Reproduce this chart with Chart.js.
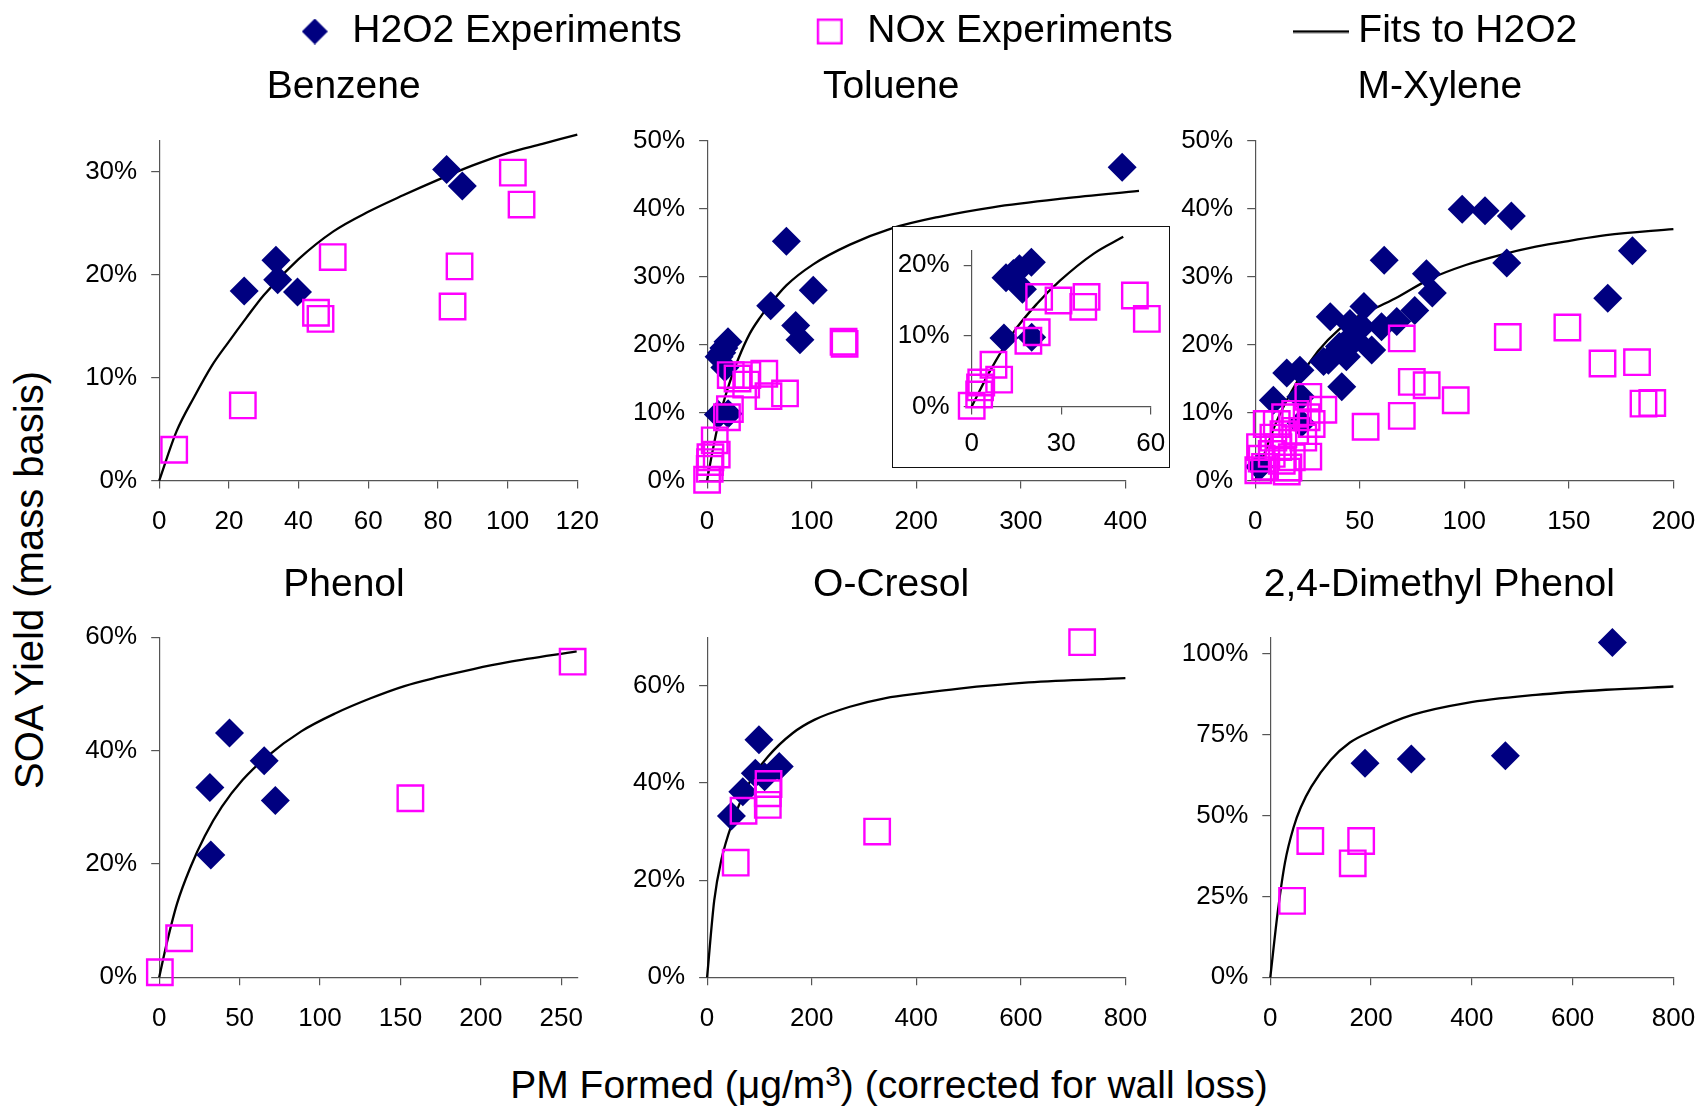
<!DOCTYPE html>
<html>
<head>
<meta charset="utf-8">
<script src="https://cdn.jsdelivr.net/npm/chart.js@4.4.1/dist/chart.umd.min.js"></script>
<style>
html,body{margin:0;padding:0;background:#fff;}
body{width:1700px;height:1109px;position:relative;overflow:hidden;font-family:'Liberation Sans',Arial,sans-serif;color:#000;}
canvas{position:absolute;}
#insetBox{position:absolute;left:891.7px;top:226px;width:278.3px;height:242.3px;border:1.5px solid #111;background:#fff;box-sizing:border-box;z-index:2;}
#ytitle{position:absolute;left:-221px;top:559.5px;width:500px;height:40px;line-height:40px;font-size:40px;text-align:center;transform:rotate(-90deg);transform-origin:50% 50%;white-space:nowrap;}
#xtitle{position:absolute;left:389px;top:1065px;width:1000px;height:39px;line-height:39px;font-size:39px;text-align:center;white-space:nowrap;}
#xtitle .sup{font-size:28px;position:relative;top:-12px;}
.ptitle{position:absolute;width:600px;height:39px;line-height:39px;font-size:39px;text-align:center;white-space:nowrap;z-index:5;}
</style>
</head>
<body>
<div id="ytitle">SOA Yield (mass basis)</div>
<div id="xtitle">PM Formed (μg/m<span class="sup">3</span>) (corrected for wall loss)</div>
<div id="insetBox"></div>
<script>
// ---------------- DATA ----------------
const legendLabels = ['H2O2 Experiments', 'NOx Experiments', 'Fits to H2O2'];
const panelTitles = ['Benzene', 'Toluene', 'M-Xylene', 'Phenol', 'O-Cresol', '2,4-Dimethyl Phenol'];

// Benzene
const benzeneH2O2X = [24.4, 33.5, 34.0, 39.7, 82.5, 87.0];
const benzeneH2O2Y = [18.4, 21.4, 19.5, 18.3, 30.2, 28.6];
const benzeneNOxX = [4.3, 24.0, 45.0, 46.3, 49.8, 84.2, 86.2, 101.5, 104.0];
const benzeneNOxY = [3.0, 7.3, 16.3, 15.7, 21.7, 16.9, 20.8, 29.9, 26.8];
const benzeneFitX = [0, 5, 10, 15, 20, 25, 30, 40, 50, 60, 70, 80, 90, 100, 110, 120];
const benzeneFitY = [0, 4.8, 8.1, 11.1, 13.5, 15.8, 18.0, 21.5, 24.2, 26.1, 27.7, 29.2, 30.6, 31.8, 32.7, 33.6];

// Toluene
const tolueneH2O2X = [10.8, 20.1, 11.5, 14, 16, 20, 17, 60.8, 75.8, 84.7, 88.8, 101.5, 396.9];
const tolueneH2O2Y = [9.7, 9.8, 18.2, 18.8, 19.5, 20.4, 16.6, 25.7, 35.2, 22.8, 20.7, 28.0, 46.1];
const tolueneNOxX = [0, 2.5, 2.8, 3.2, 7.3, 9.2, 19, 21.8, 22.6, 29.1, 37.4, 38.5, 54.7, 58.7, 74.5, 130.5, 131.5];
const tolueneNOxY = [0.1, 1.7, 2.7, 3.4, 5.9, 3.8, 9.3, 10.5, 15.5, 15.0, 14.1, 15.5, 15.7, 12.4, 12.8, 20.4, 20.1];
const tolueneFitX = [0, 6.1, 14, 21.8, 29.6, 40.8, 50.8, 58, 75.8, 101.5, 136.6, 176.6, 222, 273, 341.6, 413];
const tolueneFitY = [0, 5.0, 10.5, 14.5, 17.8, 21.6, 24.0, 25.5, 28.7, 31.8, 34.7, 37.1, 38.8, 40.2, 41.5, 42.6];

// M-Xylene
const mxyleneH2O2X = [2, 8.7, 15.1, 21.4, 21.8, 22, 32.7, 35.0, 35.9, 40.3, 41.4, 43.6, 45.3, 46.1, 47.7, 50.9, 52.0, 55.7, 60.4, 61.7, 67.7, 76.3, 81.9, 84.7, 99.0, 109.9, 120.3, 122.5, 168.6, 180.4];
const mxyleneH2O2Y = [2, 11.8, 15.8, 16.2, 12.3, 8.4, 17.5, 17.7, 24.1, 19.7, 13.8, 18.2, 23.1, 21.1, 20.7, 22.6, 25.6, 19.2, 22.6, 32.4, 23.4, 25.0, 30.4, 27.6, 39.9, 39.7, 32.0, 38.9, 26.8, 33.8];
const mxyleneNOxX = [1.5, 2.3, 3.1, 4.7, 5.5, 7.9, 8.7, 10.3, 11.1, 12.7, 13.5, 14.3, 15.1, 15.9, 17.5, 19.1, 19.1, 23.0, 24.6, 25.4, 25.4, 27.0, 32.6, 52.8, 70.1, 70.1, 74.9, 82.0, 95.9, 120.8, 149.3, 166.1, 182.6, 185.7, 189.9];
const mxyleneNOxY = [1.5, 4.9, 3.2, 2.0, 8.3, 3.9, 6.3, 8.3, 4.9, 2.9, 6.8, 9.3, 1.3, 1.9, 3.4, 9.8, 7.3, 6.3, 9.3, 12.3, 3.5, 8.3, 10.4, 7.9, 20.9, 9.5, 14.5, 14.0, 11.8, 21.1, 22.5, 17.2, 17.4, 11.3, 11.4];
const mxyleneFitX = [0, 10, 20, 30, 40, 50, 57, 67.1, 83.9, 100.7, 117.5, 134.2, 151, 167.8, 200];
const mxyleneFitY = [0, 8.5, 14.5, 19.0, 22.2, 24.3, 25.3, 26.8, 29.7, 31.7, 33.2, 34.4, 35.3, 36.1, 37.0];

// Phenol
const phenolH2O2X = [31.5, 32.1, 43.7, 65.3, 72.2];
const phenolH2O2Y = [33.5, 21.6, 43.1, 38.2, 31.2];
const phenolNOxX = [0.4, 12.4, 156.2, 257.1];
const phenolNOxY = [0.9, 6.9, 31.6, 55.7];
const phenolFitX = [0, 4.7, 11.1, 19.7, 28.3, 39, 51.8, 66.8, 88.3, 109.7, 131.1, 152.5, 173.9, 195.4, 216.8, 259.6];
const phenolFitY = [0, 6.0, 13.0, 19.6, 24.9, 30.1, 34.8, 38.9, 43.4, 46.6, 49.2, 51.4, 53.0, 54.4, 55.6, 57.5];

// O-Cresol
const ocresolH2O2X = [46.5, 68.3, 92.2, 99.1, 110, 138.0];
const ocresolH2O2Y = [33.2, 38.2, 42.0, 48.9, 41.3, 43.4];
const ocresolNOxX = [54.7, 69.7, 116.1, 116.1, 117.5, 325.2, 717.3];
const ocresolNOxY = [23.6, 34.3, 35.5, 37.9, 39.8, 30.0, 69.0];
const ocresolFitX = [0, 13.7, 27.3, 47.8, 82, 116.1, 164, 205, 273, 341.6, 409.9, 478.2, 614.9, 800];
const ocresolFitY = [0, 15.9, 24.2, 31.7, 40.3, 45.4, 50.3, 53.0, 55.7, 57.5, 58.5, 59.4, 60.7, 61.6];

// 2,4-Dimethyl Phenol
const dmphenolH2O2X = [188.0, 279.9, 466.5, 678.9];
const dmphenolH2O2Y = [66.1, 67.4, 68.4, 103.4];
const dmphenolNOxX = [43.2, 79.4, 163.6, 180.3];
const dmphenolNOxY = [23.6, 42.1, 35.2, 42.1];
const dmphenolFitX = [0, 15.3, 29.2, 46.6, 60.6, 81.5, 119.8, 158, 199.8, 283.4, 387.8, 527.1, 666.3, 800];
const dmphenolFitY = [0, 20.8, 35.5, 46.5, 52.5, 58.9, 67.1, 72.5, 75.9, 81.1, 84.7, 87.2, 88.8, 89.8];

// Axis ranges (min, max, step) for x and y of each panel
const xRanges = [[0, 120, 20], [0, 400, 100], [0, 200, 50], [0, 260, 50], [0, 800, 200], [0, 800, 200]];
const yRanges = [[0, 33, 10], [0, 50, 10], [0, 50, 10], [0, 60, 20], [0, 70, 20], [0, 105, 25]];
const insetXRange = [0, 60, 30];
const insetYRange = [0, 22, 10];

// ---------------- STYLE / LAYOUT ----------------
const FONT = "'Liberation Sans', Arial, sans-serif";
const NAVY = '#000080';
const MAGENTA = '#FF00FF';
const AXIS = '#555555';
const TICK_FONT = {size: 26, family: FONT};

const pts = (xs, ys) => xs.map((x, i) => ({x: x, y: ys[i]}));

function makeDatasets(h2x, h2y, nx, ny, fx, fy) {
  return [
    {label: legendLabels[1], data: pts(nx, ny), order: 1, clip: false,
     pointStyle: 'rect', pointRadius: 18, pointHoverRadius: 18,
     backgroundColor: 'rgba(0,0,0,0)', pointBackgroundColor: 'rgba(0,0,0,0)',
     borderColor: MAGENTA, pointBorderColor: MAGENTA, borderWidth: 2.4, pointBorderWidth: 2.4, showLine: false},
    {label: legendLabels[0], data: pts(h2x, h2y), order: 2, clip: false,
     pointStyle: 'rectRot', pointRadius: 14.5, pointHoverRadius: 14.5,
     backgroundColor: NAVY, pointBackgroundColor: NAVY, borderWidth: 0, pointBorderWidth: 0, showLine: false},
    {label: legendLabels[2], data: pts(fx, fy), order: 3, clip: false,
     showLine: true, pointRadius: 0, pointHoverRadius: 0, borderColor: '#000', borderWidth: 2.3,
     backgroundColor: '#000', fill: false, cubicInterpolationMode: 'monotone'}
  ];
}

function scaleCfg(range, isY, fitSize, xPad) {
  return {
    type: 'linear', min: range[0], max: range[1],
    ticks: {stepSize: range[2], includeBounds: false, autoSkip: false, maxRotation: 0,
            color: '#000', font: TICK_FONT, padding: isY ? 14 : (xPad || 17.5),
            callback: isY ? (v => v + '%') : (v => String(v))},
    grid: {drawOnChartArea: false, drawTicks: true, tickLength: 8, color: AXIS, lineWidth: 1.2},
    border: {display: true, color: AXIS, width: 1.2},
    afterFit: isY ? (s => { s.width = fitSize; }) : (s => { s.height = fitSize; })
  };
}

// chart-area targets for the six panels, plus title centre x and title baseline y
const panelBoxes = [
  {left: 159.2, right: 577.3, top: 140.7, bottom: 480.6, tcx: 343.7, base: 98.0},
  {left: 707.1, right: 1125.4, top: 140.7, bottom: 480.4, tcx: 891.2, base: 98.0},
  {left: 1255.2, right: 1673.4, top: 140.7, bottom: 480.4, tcx: 1439.8, base: 98.0},
  {left: 159.2, right: 577.3, top: 637.3, bottom: 977.3, tcx: 344.0, base: 595.5},
  {left: 707.1, right: 1125.4, top: 637.3, bottom: 977.3, tcx: 891.1, base: 595.5},
  {left: 1270.3, right: 1673.4, top: 637.3, bottom: 977.3, tcx: 1439.4, base: 595.5}
];

const panelData = [
  [benzeneH2O2X, benzeneH2O2Y, benzeneNOxX, benzeneNOxY, benzeneFitX, benzeneFitY],
  [tolueneH2O2X, tolueneH2O2Y, tolueneNOxX, tolueneNOxY, tolueneFitX, tolueneFitY],
  [mxyleneH2O2X, mxyleneH2O2Y, mxyleneNOxX, mxyleneNOxY, mxyleneFitX, mxyleneFitY],
  [phenolH2O2X, phenolH2O2Y, phenolNOxX, phenolNOxY, phenolFitX, phenolFitY],
  [ocresolH2O2X, ocresolH2O2Y, ocresolNOxX, ocresolNOxY, ocresolFitX, ocresolFitY],
  [dmphenolH2O2X, dmphenolH2O2Y, dmphenolNOxX, dmphenolNOxY, dmphenolFitX, dmphenolFitY]
];

function addCanvas(l, t, w, h, z) {
  const c = document.createElement('canvas');
  c.width = w; c.height = h;
  c.style.left = l + 'px'; c.style.top = t + 'px';
  c.style.width = w + 'px'; c.style.height = h + 'px';
  c.style.zIndex = z;
  document.body.appendChild(c);
  return c;
}

function makePanel(i) {
  const b = panelBoxes[i];
  // panel title as text
  const t = document.createElement('div');
  t.className = 'ptitle';
  t.textContent = panelTitles[i];
  t.style.left = (b.tcx - 300) + 'px';
  t.style.top = (b.base - 33) + 'px';
  document.body.appendChild(t);

  const Cl = Math.round(b.left - 100);
  const Wy = b.left - Cl;
  const Wc = Math.ceil(b.right - Cl + 45);
  const padR = Wc - (b.right - Cl);
  const Ct = Math.round(b.top - 42);
  const padT = b.top - Ct;
  const Hc = Math.round(b.bottom - Ct + 62);
  const Hx = Ct + Hc - b.bottom;
  const cv = addCanvas(Cl, Ct, Wc, Hc, 1);
  const d = panelData[i];
  new Chart(cv, {
    type: 'scatter',
    data: {datasets: makeDatasets(d[0], d[1], d[2], d[3], d[4], d[5])},
    options: {
      responsive: false, animation: false, devicePixelRatio: 1, events: [],
      layout: {padding: {left: 0, right: padR, top: padT, bottom: 0}},
      plugins: {legend: {display: false}, tooltip: {enabled: false}, title: {display: false}},
      scales: {x: scaleCfg(xRanges[i], false, Hx), y: scaleCfg(yRanges[i], true, Wy)}
    }
  });
}

for (let i = 0; i < 6; i++) makePanel(i);

// ---------------- INSET (Toluene, low-mass range) ----------------
(function () {
  const area = {left: 971.7, right: 1150.7, top: 251, bottom: 406.5};
  const Cl = 893, Ct = 212;
  const Wc = Math.ceil(area.right - Cl + 36);
  const Hc = Math.round(area.bottom - Ct + 62);
  const Wy = area.left - Cl;
  const padR = Cl + Wc - area.right;
  const padT = area.top - Ct;
  const Hx = Ct + Hc - area.bottom;
  const inRange = (x, y) => x <= insetXRange[1] && y <= insetYRange[1] + 3;
  const sel = (xs, ys) => {
    const ox = [], oy = [];
    xs.forEach((x, k) => { if (inRange(x, ys[k])) { ox.push(x); oy.push(ys[k]); } });
    return [ox, oy];
  };
  const h = sel(tolueneH2O2X, tolueneH2O2Y);
  const n = sel(tolueneNOxX, tolueneNOxY);
  const fx = [], fy = [];
  tolueneFitX.forEach((x, k) => { if (x <= 52) { fx.push(x); fy.push(tolueneFitY[k]); } });
  const cv = addCanvas(Cl, Ct, Wc, Hc, 3);
  new Chart(cv, {
    type: 'scatter',
    data: {datasets: makeDatasets(h[0], h[1], n[0], n[1], fx, fy)},
    options: {
      responsive: false, animation: false, devicePixelRatio: 1, events: [],
      layout: {padding: {left: 0, right: padR, top: padT, bottom: 0}},
      plugins: {legend: {display: false}, tooltip: {enabled: false}, title: {display: false}},
      scales: {x: scaleCfg(insetXRange, false, Hx, 14), y: scaleCfg(insetYRange, true, Wy)}
    }
  });
})();

// ---------------- LEGEND ----------------
(function () {
  function icon(w, h, draw) {
    const c = document.createElement('canvas');
    c.width = w; c.height = h;
    draw(c.getContext('2d'));
    return c;
  }
  const icons = [
    icon(26, 26, g => { g.fillStyle = NAVY; g.beginPath(); g.moveTo(13, 0); g.lineTo(26, 13); g.lineTo(13, 26); g.lineTo(0, 13); g.closePath(); g.fill(); }),
    icon(28, 28, g => { g.strokeStyle = MAGENTA; g.lineWidth = 2.4; g.strokeRect(2.2, 2.2, 23.6, 23.6); }),
    icon(56, 4, g => { g.strokeStyle = '#000'; g.lineWidth = 2.4; g.beginPath(); g.moveTo(0, 2); g.lineTo(56, 2); g.stroke(); })
  ];
  const cv = addCanvas(137, -118, 1600, 400, 4);
  new Chart(cv, {
    type: 'scatter',
    data: {datasets: legendLabels.map(t => ({label: t, data: []}))},
    options: {
      responsive: false, animation: false, devicePixelRatio: 1, events: [],
      scales: {x: {display: false}, y: {display: false}},
      plugins: {
        tooltip: {enabled: false},
        legend: {
          display: true, position: 'top', align: 'center',
          labels: {
            usePointStyle: true, boxWidth: 36, boxHeight: 20, padding: 130, color: '#000',
            font: {size: 39, family: FONT},
            generateLabels: () => legendLabels.map((t, i) => ({
              text: t, pointStyle: icons[i], fillStyle: '#000', strokeStyle: '#000',
              lineWidth: 0, hidden: false, datasetIndex: i, fontColor: '#000'
            }))
          }
        }
      }
    }
  });
})();
</script>
</body>
</html>
